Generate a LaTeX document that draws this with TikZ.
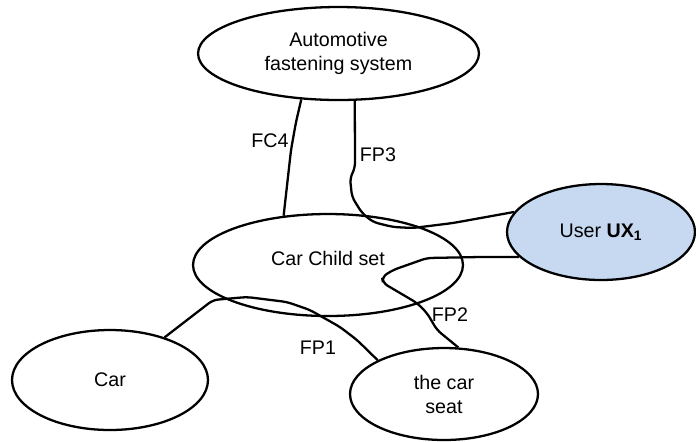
\documentclass[tikz,border=0pt]{standalone}
\usepackage{fontspec}
\setmainfont{Liberation Sans}
\usetikzlibrary{shapes.geometric}
\definecolor{userblue}{RGB}{198,217,241}

\begin{document}
\begin{tikzpicture}
        [x=0.02cm, y=-0.02cm,
        font=\fontsize{11.2}{13.7}\selectfont,
        blob/.style={ellipse, draw=black, fill=white, line width=1.3pt, inner sep=0pt, align=center},
        link/.style={line width=1.3pt, rounded corners=3pt},
        lbl/.style={inner sep=0pt}]
        \useasboundingbox (0,0) rectangle (696,441);
        \node (afs) at (338.5,53.5) [blob, minimum width=5.62cm, minimum height=1.86cm] {Automotive\\fastening system};
        \node (ccs) at (328,265) [blob, text depth=8pt, minimum width=5.4cm, minimum height=2.04cm] {Car Child set};
        \node (user) at (601,232) [blob, fill=userblue, minimum width=3.76cm, minimum height=1.92cm] {User \textbf{UX\textsubscript{1}}};
        \node (car) at (110,380) [blob, minimum width=3.92cm, minimum height=2cm] {Car};
        \node (seat) at (444,394) [blob, minimum width=3.76cm, minimum height=1.84cm] {the car\\seat};
        % wiggly connectors
        \draw[link] (afs.-129) -- (296,122) -- (291,150) -- (ccs.132.6);
        \draw[link] (afs.-71) -- (355,168) -- (350,178) -- (352,197) -- (362,213) -- (373,222)
           -- (393,227) -- (413,228) -- (453,223) -- (user.167);
        \draw[link] (user.197) -- (480,257) -- (427,258) -- (393,270) -- (382,277) -- (383,283)
           -- (400,293) -- (417,303) -- (427,313) -- (437,330) -- (seat.73);
        \draw[link] (car.38.5) -- (213,300) -- (247,297) -- (287,302) -- (310,310) -- (340,327)
           -- (357,340) -- (seat.153);
        \node (fc4) at (270,141) [lbl] {FC4};
        \node (fp3) at (378,155) [lbl] {FP3};
        \node (fp2) at (450,315) [lbl] {FP2};
        \node (fp1) at (318,348) [lbl] {FP1};
\end{tikzpicture}
\end{document}
